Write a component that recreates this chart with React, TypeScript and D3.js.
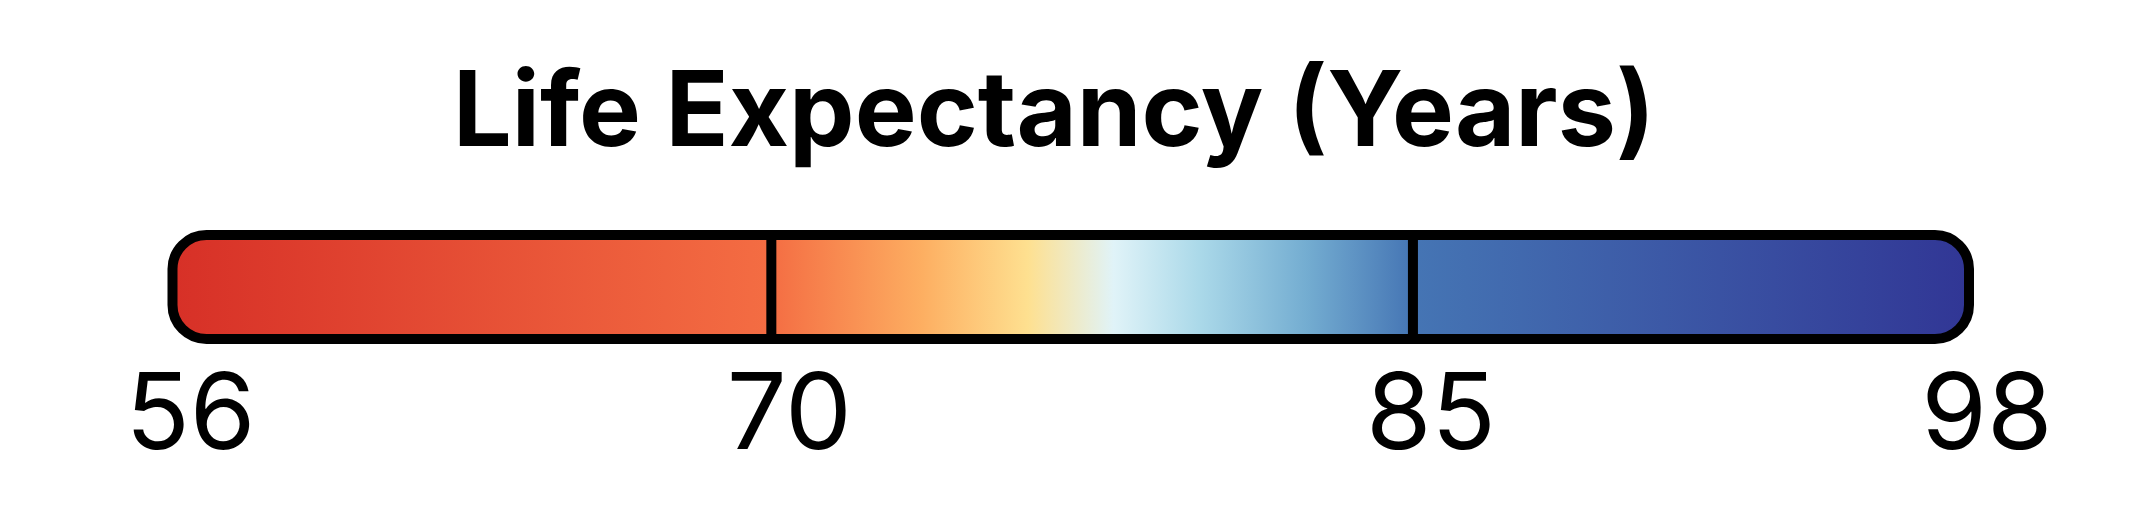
import { useEffect, useRef } from 'react';
import * as d3 from 'd3';

// legend data
const title = 'Life Expectancy (Years)';
const tickValues = [56, 70, 85, 98];
const breakValues = [70, 85];
const stopValues = [56, 70, 73.5, 76, 78, 80, 82.5, 85, 98];
const stopColors = [
  '#d73027', '#f46d43', '#fdae61', '#fee090', '#e0f3f8',
  '#abd9e9', '#74add1', '#4575b4', '#313695',
];

export default function App() {
  const ref = useRef<SVGSVGElement>(null);

  useEffect(() => {
    if (!ref.current) return;
    const svg = d3.select(ref.current);
    svg.selectAll('*').remove();

    const width = 2132;
    const barTop = 235;
    const barHeight = 104;
    const radius = 34;

    const x = d3.scaleLinear()
      .domain([d3.min(tickValues)!, d3.max(tickValues)!])
      .range([172.5, 1969]);

    const defs = svg.append('defs');
    const grad = defs.append('linearGradient')
      .attr('id', 'lifeGrad')
      .attr('gradientUnits', 'userSpaceOnUse')
      .attr('x1', x.range()[0])
      .attr('x2', x.range()[1])
      .attr('y1', 0)
      .attr('y2', 0);

    const offset = d3.scaleLinear().domain(x.domain()).range([0, 1]);
    stopValues.forEach((v, i) => {
      grad.append('stop')
        .attr('offset', offset(v))
        .attr('stop-color', stopColors[i]);
    });

    // title
    svg.append('text')
      .attr('x', width / 2 - 12)
      .attr('y', 146)
      .attr('text-anchor', 'middle')
      .style('font-family', 'Inter, sans-serif')
      .style('font-weight', 700)
      .style('font-size', '104px')
      .text(title);

    // bar
    svg.append('rect')
      .attr('x', x.range()[0])
      .attr('y', barTop)
      .attr('width', x.range()[1] - x.range()[0])
      .attr('height', barHeight)
      .attr('rx', radius)
      .attr('ry', radius)
      .attr('fill', 'url(#lifeGrad)')
      .attr('stroke', '#000')
      .attr('stroke-width', 10);

    // segment dividers
    svg.selectAll('.divider')
      .data(breakValues)
      .enter()
      .append('line')
      .attr('class', 'divider')
      .attr('x1', d => x(d))
      .attr('x2', d => x(d))
      .attr('y1', barTop)
      .attr('y2', barTop + barHeight)
      .attr('stroke', '#000')
      .attr('stroke-width', 10);

    // tick labels
    svg.selectAll('.tick-label')
      .data(tickValues)
      .enter()
      .append('text')
      .attr('class', 'tick-label')
      .attr('x', d => x(d) + 18)
      .attr('y', 449)
      .attr('text-anchor', 'middle')
      .style('font-family', 'Inter, sans-serif')
      .style('font-size', '106px')
      .text(d => String(d));
  }, []);

  return (
    <svg
      ref={ref}
      width={2132}
      height={512}
      style={{ position: 'absolute', left: 0, top: 0, background: '#fff' }}
    />
  );
}
